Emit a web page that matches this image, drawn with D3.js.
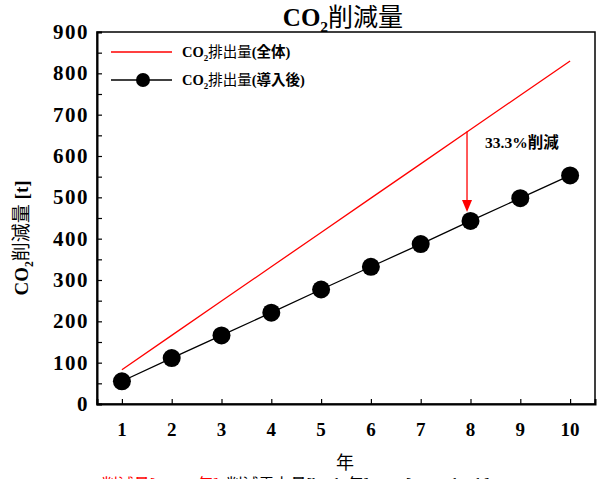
<!DOCTYPE html>
<html>
<head>
<meta charset="utf-8">
<script src="https://cdn.jsdelivr.net/npm/d3@7"></script>
<style>
  body { margin: 0; background: #fff; }
  text { font-family: "Liberation Serif", "Noto Sans CJK JP", serif; }
</style>
</head>
<body>
<div id="chart"></div>
<script>
let width = 605
let height = 479

// data
let years = [1, 2, 3, 4, 5, 6, 7, 8, 9, 10]
let totalCO2 = [83, 166, 249, 332, 415, 498, 581, 664, 747, 830]
let afterCO2 = [55, 111, 166, 221, 277, 332, 387, 443, 498, 553]
let yTicks = [0, 100, 200, 300, 400, 500, 600, 700, 800, 900]
let yMinor = d3.range(0, 901, 50)

let padL = 97, padR = 595, padT = 32, padB = 404

let svg = d3.select("#chart")
  .append("svg")
  .attr("width", width)
  .attr("height", height)

let x = d3.scaleLinear()
          .domain([0.5, 10.5])
          .range([padL, padR])

let y = d3.scaleLinear()
          .domain([0, 900])
          .range([padB, padT])

// mixed latin (bold) / CJK (regular) text helper
function richText(g, parts, size) {
  let t = g.append("text").attr("font-size", size)
  parts.forEach(p => {
    let s = t.append("tspan").text(p.t)
    if (p.b) s.attr("font-weight", "bold")
    if (p.sub) s.attr("font-size", size * 0.62).attr("dy", size * 0.25)
    if (p.up) s.attr("dy", -size * 0.25)
  })
  return t
}

// frame
svg.append("rect")
   .attr("x", padL).attr("y", padT)
   .attr("width", padR - padL).attr("height", padB - padT)
   .attr("fill", "none").attr("stroke", "#000").attr("stroke-width", 1.5)

// y axis
let yAxis = d3.axisLeft(y).tickValues(yMinor).tickSize(-5).tickFormat("")
let gy = svg.append("g").attr("transform", `translate(${padL},0)`).call(yAxis)
gy.select(".domain").attr("stroke-width", 2)
gy.selectAll(".tick line").attr("stroke-width", 1.2)

svg.selectAll(".ylab")
   .data(yTicks)
   .enter()
   .append("text")
   .attr("class", "ylab")
   .attr("x", padL - 8)
   .attr("y", d => y(d) + 7)
   .attr("text-anchor", "end")
   .attr("font-size", 21)
   .attr("font-weight", "bold")
   .attr("letter-spacing", 1.5)
   .text(d => d)

// x axis
let xAxis = d3.axisBottom(x).tickValues(years).tickSize(-5).tickFormat("")
let gx = svg.append("g").attr("transform", `translate(0,${padB})`).call(xAxis)
gx.select(".domain").attr("stroke-width", 2)
gx.selectAll(".tick line").attr("stroke-width", 1.2)

svg.selectAll(".xlab")
   .data(years)
   .enter()
   .append("text")
   .attr("class", "xlab")
   .attr("x", d => x(d))
   .attr("y", padB + 32)
   .attr("text-anchor", "middle")
   .attr("font-size", 19)
   .attr("font-weight", "bold")
   .text(d => d)

// lines
let line = d3.line().x((d, i) => x(years[i])).y(d => y(d))

svg.append("path")
   .datum(totalCO2)
   .attr("d", line)
   .attr("fill", "none")
   .attr("stroke", "#ff0000")
   .attr("stroke-width", 1.3)

svg.append("path")
   .datum(afterCO2)
   .attr("d", line)
   .attr("fill", "none")
   .attr("stroke", "#000")
   .attr("stroke-width", 1.3)

svg.selectAll(".pt")
   .data(afterCO2)
   .enter()
   .append("circle")
   .attr("class", "pt")
   .attr("cx", (d, i) => x(years[i]))
   .attr("cy", d => y(d))
   .attr("r", 9)
   .attr("fill", "#000")

// reduction arrow at year 8
let ax = x(7.93)
let aTop = y(totalCO2[7] - 5)
let aTip = y(afterCO2[7]) - 9
svg.append("line")
   .attr("x1", ax).attr("x2", ax)
   .attr("y1", aTop).attr("y2", aTip - 10)
   .attr("stroke", "#ff0000").attr("stroke-width", 1.3)
svg.append("path")
   .attr("d", `M${ax - 5},${aTip - 12} L${ax + 5},${aTip - 12} L${ax},${aTip} Z`)
   .attr("fill", "#ff0000")

richText(svg, [{t: "33.3%", b: true}, {t: "削減", b: true}], 15.5)
   .attr("x", 485).attr("y", 148)

// legend
svg.append("line")
   .attr("x1", 111).attr("x2", 172).attr("y1", 52).attr("y2", 52)
   .attr("stroke", "#ff0000").attr("stroke-width", 1.3)
richText(svg, [{t: "CO", b: true}, {t: "2", b: true, sub: true}, {t: "排出量", up: true}, {t: "(全体)", b: true}], 14.5)
   .attr("x", 182).attr("y", 57)

svg.append("line")
   .attr("x1", 111).attr("x2", 172).attr("y1", 80).attr("y2", 80)
   .attr("stroke", "#000").attr("stroke-width", 1.3)
svg.append("circle").attr("cx", 143).attr("cy", 80).attr("r", 7).attr("fill", "#000")
richText(svg, [{t: "CO", b: true}, {t: "2", b: true, sub: true}, {t: "排出量", up: true}, {t: "(導入後)", b: true}], 14.5)
   .attr("x", 182).attr("y", 85)

// title
richText(svg, [{t: "CO", b: true}, {t: "2", b: true, sub: true}, {t: "削減量", up: true}], 25)
   .attr("x", 343).attr("y", 26).attr("text-anchor", "middle")

// y axis title
richText(svg, [{t: "CO", b: true}, {t: "2", b: true, sub: true}, {t: "削減量", up: true}, {t: " [t]", b: true}], 19)
   .attr("text-anchor", "middle")
   .attr("transform", "translate(28,238) rotate(-90)")

// x axis title
svg.append("text")
   .attr("x", 345).attr("y", 469)
   .attr("text-anchor", "middle")
   .attr("font-size", 18)
   .text("年")

// formula, cut by the bottom edge as in the original
let f = svg.append("text").attr("x", 74).attr("y", 490).attr("font-size", 16)
f.append("tspan").attr("fill", "#ff0000").text("CO₂削減量[t-CO₂/年]")
f.append("tspan").attr("dx", 8).attr("fill", "#000").text("削減電力量[kWh/年]×0.34[t-CO₂/kWh]×10⁻³")
</script>
</body>
</html>
